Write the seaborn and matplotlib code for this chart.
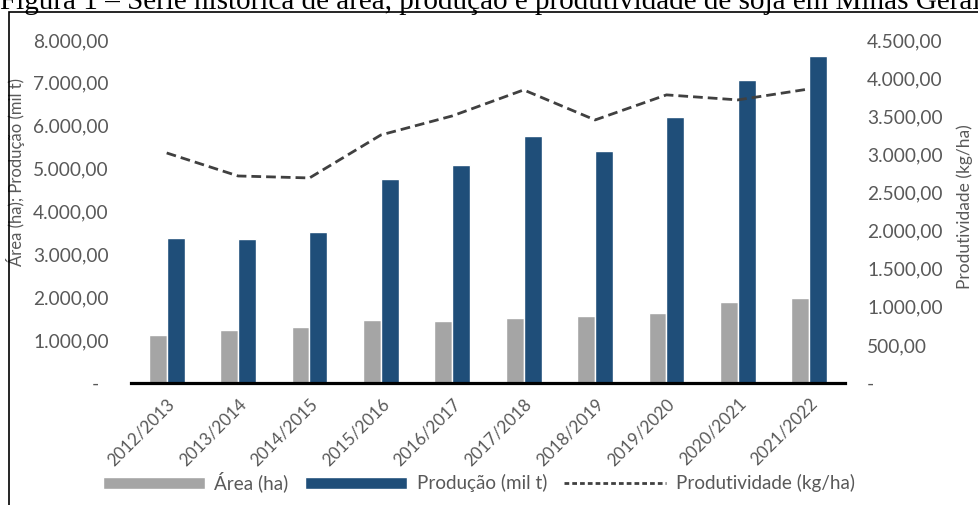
import numpy as np
import pandas as pd
import matplotlib
matplotlib.use("Agg")
import matplotlib.pyplot as plt
from matplotlib.patches import Patch, Rectangle
from matplotlib.lines import Line2D
from matplotlib.ticker import FuncFormatter, MultipleLocator
import seaborn as sns

sns.set_theme(style="white")
plt.rcParams["font.family"] = ["Lato", "DejaVu Sans"]

# Dados (safras de soja em Minas Gerais)
safras = ["2012/2013", "2013/2014", "2014/2015", "2015/2016", "2016/2017",
          "2017/2018", "2018/2019", "2019/2020", "2020/2021", "2021/2022"]
area = [1120, 1236, 1306, 1469, 1446, 1516, 1563, 1633, 1889, 1982]
producao = [3382, 3359, 3522, 4758, 5085, 5761, 5411, 6204, 7067, 7627]
produtividade = [3018, 2716, 2690, 3254, 3504, 3845, 3451, 3780, 3714, 3858]

GREY = "#A5A5A5"
BLUE = "#1F4E79"
LINE = "#404040"
TXT = "#595959"


def br_fmt(v, pos):
    s = f"{v:,.2f}"
    return s.replace(",", "X").replace(".", ",").replace("X", ".")


def main():
    df = pd.DataFrame({
        "safra": safras * 2,
        "valor": area + producao,
        "serie": ["Área (ha)"] * len(safras) + ["Produção (mil t)"] * len(safras),
    })

    fig = plt.figure(figsize=(9.79, 5.05), dpi=100)
    ax = fig.add_axes([0.1338, 0.2416, 0.7293, 0.6792])

    sns.barplot(data=df, x="safra", y="valor", hue="serie", order=safras,
                palette=[GREY, BLUE], width=0.5, gap=0, saturation=1,
                legend=False, ax=ax)
    ax.set_xlim(-0.5, len(safras) - 0.5)
    ax.set_ylim(0, 8000)
    ax.yaxis.set_major_locator(MultipleLocator(1000))
    ax.yaxis.set_major_formatter(FuncFormatter(
        lambda v, p: "-  " if abs(v) < 1e-9 else br_fmt(v, p)))
    ax.set_xlabel("")
    ax.set_ylabel("Área (ha); Produção (mil t)", color=TXT, fontsize=12)
    ax.yaxis.set_label_coords(-0.148, 0.615)

    # produtividade no eixo secundário
    ax2 = ax.twinx()
    sns.lineplot(x=np.arange(len(safras)), y=produtividade, ax=ax2,
                 color=LINE, linewidth=2.0)
    ax2.lines[0].set_linestyle((0, (3.5, 1.8)))
    ax2.set_ylim(0, 4500)
    ax2.yaxis.set_major_locator(MultipleLocator(500))
    ax2.yaxis.set_major_formatter(FuncFormatter(
        lambda v, p: "-" if abs(v) < 1e-9 else br_fmt(v, p)))
    ax2.set_ylabel("Produtividade (kg/ha)", color=TXT, fontsize=12.5, rotation=90)
    ax2.yaxis.set_label_coords(1.156, 0.515)

    for a in (ax, ax2):
        for side in ("top", "left", "right"):
            a.spines[side].set_visible(False)
        a.spines["bottom"].set_visible(a is ax)
        a.tick_params(length=0, colors=TXT, labelsize=13.8, pad=16)
        a.grid(False)
    ax.spines["bottom"].set_color("black")
    ax.spines["bottom"].set_linewidth(2.3)

    ax.tick_params(axis="x", pad=9, labelsize=12.3)
    for lab in ax.get_xticklabels():
        lab.set_rotation(45)
        lab.set_ha("right")
        lab.set_rotation_mode("anchor")

    handles = [Patch(facecolor=GREY, label="Área (ha)"),
               Patch(facecolor=BLUE, label="Produção (mil t)"),
               Line2D([], [], color=LINE, linewidth=2.0, linestyle=(0, (1.7, 1.1)),
                      label="Produtividade (kg/ha)")]
    leg = fig.legend(handles=handles, loc="center", bbox_to_anchor=(0.489, 0.0455),
                     ncol=3, frameon=False, fontsize=13.6, handlelength=5.4,
                     handleheight=0.6, handletextpad=0.5, columnspacing=0.9,
                     borderpad=0)
    for t in leg.get_texts():
        t.set_color(TXT)

    # moldura da figura e legenda da figura
    fig.add_artist(Rectangle((9 / 979, -0.1), 1.2, 1.1 - 12 / 505, transform=fig.transFigure,
                             fill=False, edgecolor="black", linewidth=1.2))
    fig.text(0.0, 1 - 9 / 505,
             "Figura 1 – Série histórica de área, produção e produtividade de soja em Minas Gerais",
             family="Liberation Serif", fontsize=21, color="black", va="baseline", ha="left")

    fig.savefig("out.png", dpi=100)
    plt.close(fig)


if __name__ == "__main__":
    main()
